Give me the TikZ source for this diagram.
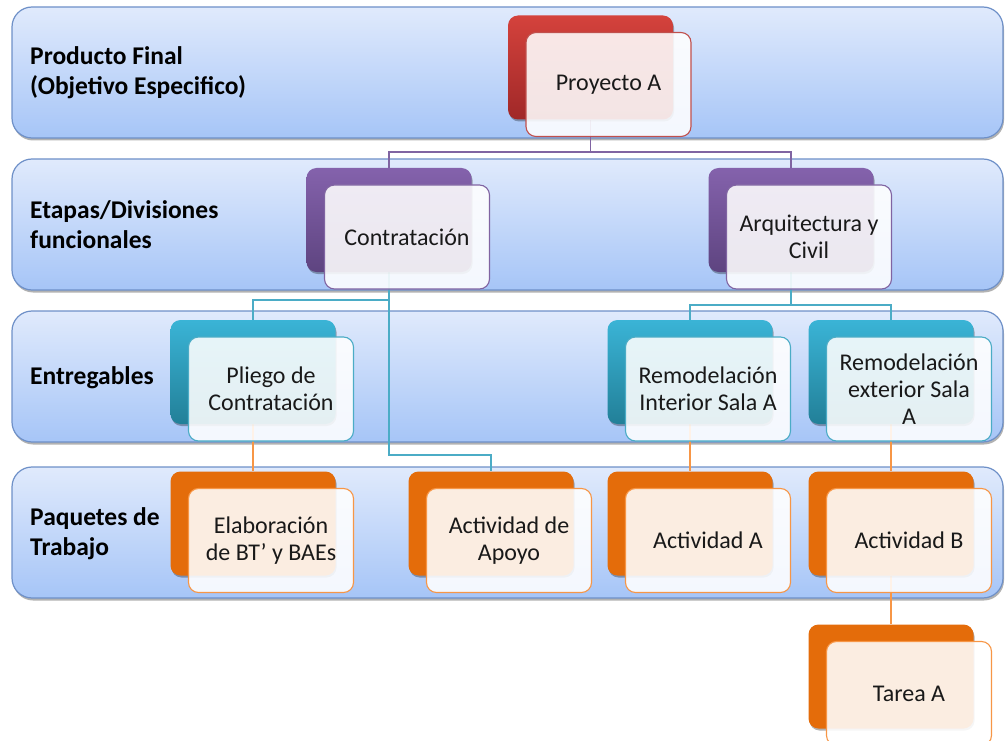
\documentclass[tikz,border=0pt]{standalone}
\usepackage{fontspec}
\setmainfont{Carlito}
\usetikzlibrary{shadows}

\definecolor{bandtop}{RGB}{224,234,252}
\definecolor{bandbot}{RGB}{166,197,247}
\definecolor{bandedge}{RGB}{110,144,200}
\definecolor{redtop}{RGB}{212,66,60}
\definecolor{redbot}{RGB}{160,40,40}
\definecolor{redline}{RGB}{192,80,77}
\definecolor{purtop}{RGB}{132,98,172}
\definecolor{purbot}{RGB}{94,68,128}
\definecolor{purline}{RGB}{128,100,162}
\definecolor{cyantop}{RGB}{58,180,214}
\definecolor{cyanbot}{RGB}{34,128,152}
\definecolor{cyanline}{RGB}{75,172,198}
\definecolor{orgfill}{RGB}{228,108,10}
\definecolor{orgline}{RGB}{247,150,70}

\pgfdeclarelayer{bandlayer}
\pgfdeclarelayer{linklayer}
\pgfsetlayers{bandlayer,linklayer,main}

\tikzset{
  band/.style={draw=bandedge, line width=1.2pt, rounded corners=20pt,
    top color=bandtop, bottom color=bandbot,
    drop shadow={shadow xshift=1pt, shadow yshift=-2.5pt, opacity=0.3, fill=black}},
  bandlabel/.style={anchor=west, align=left, inner sep=0pt,
    font=\bfseries\fontsize{25.5}{30}\selectfont},
  backbox/.style={rounded corners=10pt, minimum width=165pt, minimum height=104pt,
    inner sep=0pt, draw=none,
    drop shadow={shadow xshift=1pt, shadow yshift=-2pt, opacity=0.3, fill=black}},
  frontbox/.style={rounded corners=10pt, minimum width=165pt, minimum height=104pt,
    inner sep=0pt, fill=white, fill opacity=0.88, text opacity=1,
    line width=1.1pt, align=center, text=black!90,
    font=\fontsize{24}{27}\selectfont},
  redback/.style={backbox, top color=redtop, bottom color=redbot},
  purback/.style={backbox, top color=purtop, bottom color=purbot},
  cyanback/.style={backbox, top color=cyantop, bottom color=cyanbot},
  orgback/.style={backbox, fill=orgfill},
  redfront/.style={frontbox, draw=redline},
  purfront/.style={frontbox, draw=purline},
  cyanfront/.style={frontbox, draw=cyanline},
  orgfront/.style={frontbox, draw=orgline},
  link/.style={line width=1.2pt},
}

% a card: coloured back panel plus a lighter panel shifted down-right
\newcommand{\wbscard}[5]{%
  \node[#2back] (#1) at (#3,#4) {};
  \node[#2front] (#1f) at ([xshift=18pt,yshift=-17pt]#1.center) {#5};
}

\begin{document}
\begin{tikzpicture}[x=1pt,y=-1pt]
\useasboundingbox (0,0) rectangle (1005,741);

% horizontal bands with their level names
\begin{pgfonlayer}{bandlayer}
  \draw[band] (12,7) rectangle (1003,138);
  \draw[band] (12,159) rectangle (1003,290);
  \draw[band] (12,311) rectangle (1003,442);
  \draw[band] (12,467) rectangle (1003,598);
\end{pgfonlayer}
\node[bandlabel] (lvl1) at (30,73) {Producto Final\\(Objetivo Especifico)};
\node[bandlabel] (lvl2) at (30,225) {Etapas/Divisiones\\funcionales};
\node[bandlabel] (lvl3) at (30,378) {Entregables};
\node[bandlabel] (lvl4) at (30,534) {Paquetes de\\Trabajo};

% cards
\wbscard{pa}{red}{590.5}{67.5}{Proyecto A}
\wbscard{con}{pur}{389}{220}{Contratación}
\wbscard{arq}{pur}{791}{220}{Arquitectura y\\Civil}
\wbscard{pli}{cyan}{253}{372}{Pliego de\\Contratación}
\wbscard{ri}{cyan}{690}{372}{Remodelación\\Interior Sala A}
\wbscard{re}{cyan}{891}{372}{Remodelación\\exterior Sala\\A}
\wbscard{ela}{org}{253}{523.5}{Elaboración\\de BT’ y BAEs}
\wbscard{apo}{org}{491}{523.5}{Actividad de\\Apoyo}
\wbscard{aca}{org}{690}{523.5}{Actividad A}
\wbscard{acb}{org}{891}{523.5}{Actividad B}
\wbscard{tar}{org}{891}{676.5}{Tarea A}

% connectors
\coordinate (busP) at (590.5,152);
\coordinate (busC) at (389,300);
\coordinate (busC2) at (389,455);
\coordinate (busR) at (791,305);
\begin{pgfonlayer}{linklayer}
  \draw[link, purline] (pa.south) -- (busP) -| (con.north);
  \draw[link, purline] (busP) -| (arq.north);
  \draw[link, cyanline] (con.south) -- (busC) -| (pli.north);
  \draw[link, cyanline] (busC) -- (busC2) -| (apo.north);
  \draw[link, cyanline] (arq.south) -- (busR) -| (ri.north);
  \draw[link, cyanline] (busR) -| (re.north);
  \draw[link, orgline] (pli.south) -- (ela.north);
  \draw[link, orgline] (ri.south) -- (aca.north);
  \draw[link, orgline] (re.south) -- (acb.north);
  \draw[link, orgline] (acb.south) -- (tar.north);
\end{pgfonlayer}
\end{tikzpicture}
\end{document}
